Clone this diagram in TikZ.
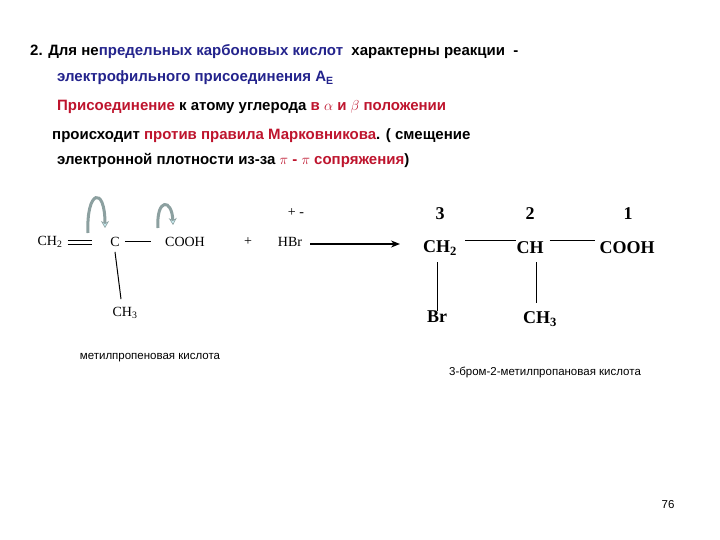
\documentclass[tikz,border=0pt]{standalone}
\usepackage{fontspec}
\setmainfont{Liberation Sans}
\newfontfamily\chem{Liberation Serif}
\usetikzlibrary{arrows.meta,calc}
\definecolor{tblue}{RGB}{35,35,140}
\definecolor{tred}{RGB}{190,20,45}
\definecolor{agray}{RGB}{140,160,160}
\definecolor{acyan}{RGB}{200,235,240}
\tikzset{
 tl/.style={anchor=base west,inner sep=0pt,font=\fontsize{15}{17}\selectfont\bfseries},
 rc/.style={inner sep=0pt,font=\chem\fontsize{14}{16}\selectfont},
 pc/.style={inner sep=0pt,font=\chem\fontsize{18}{20}\selectfont\bfseries},
 bond/.style={line width=1pt},
 curv/.style={line width=3pt,draw=agray,-{Stealth[length=7pt,width=8pt,fill=acyan,color=agray,line width=0.6pt]}},
 lab/.style={inner sep=0pt,font=\fontsize{11.5}{13}\selectfont}
}
\begin{document}
\begin{tikzpicture}[x=1pt,y=-1pt]
\useasboundingbox (0,0) rectangle (720,540);
\node[tl] (l1) at (30,56) {2. Для не\textcolor{tblue}{предельных карбоновых кислот}\ \ характерны реакции \ -};
\node[tl,text=tblue] (l2) at (57,82) {электрофильного присоединения A\textsubscript{E}};
\node[tl] (l3) at (57,111) {\textcolor{tred}{Присоединение} к атому углерода \textcolor{tred}{в $\alpha$ и $\beta$ положении}};
\node[tl] (l4) at (52,140) {происходит \textcolor{tred}{против правила Марковникова}. ( смещение};
\node[tl] (l5) at (57,165) {электронной плотности из-за \textcolor{tred}{$\pi$ - $\pi$ сопряжения})};
% reactant
\node[rc] (a1) at (50,242) {CH\textsubscript{2}};
\node[rc] (a2) at (115,242) {C};
\node[rc] (a3) at (185,242) {COOH};
\node[rc] (a4) at (125,313) {CH\textsubscript{3}};
\node[rc] (plus) at (248,242) {+};
\node[rc] (hbr) at (290,242) {HBr};
\node[rc] (pm) at (296,213) {+ -};
\draw[bond] (a1.east)++(5,-2) coordinate (d1) -- ++(24,0);
\draw[bond] (a1.east)++(5,2) -- ++(24,0);
\draw[bond] (a2.east)++(5,-1) -- ++(26,0);
\draw[bond] (a2.south)++(0,5) -- ($(a4.north)+(-4,-8)$);
\draw[curv] (88,233) .. controls (86,190) and (105,185) .. (105,228);
\draw[curv] (158,228) .. controls (156,198) and (172,198) .. (173,225);
\coordinate (ar) at (400,244);
\draw[line width=1.8pt,-{Stealth[length=9pt,width=7pt]}] (hbr.east)++(8,2) -- (ar);
% product
\node[pc] (b1) at (440,248) {CH\textsubscript{2}};
\node[pc] (b2) at (530,248) {CH};
\node[pc] (b3) at (627,248) {COOH};
\node[pc] (n3) at (440,214) {3};
\node[pc] (n2) at (530,214) {2};
\node[pc] (n1) at (628,214) {1};
\node[pc] (br) at (437,317) {Br};
\node[pc] (b4) at (540,319) {CH\textsubscript{3}};
\draw[bond] (465,240) -- (b2.west|-0,240);
\draw[bond] (b2.east|-0,240) ++(6,0) -- (595,240);
\draw[bond] (437,262) -- (br.north);
\draw[bond] (536,262) -- (536,303);
\node[lab] (c1) at (150,358) {метилпропеновая кислота};
\node[lab] (c2) at (545,372) {3-бром-2-метилпропановая кислота};
\node[lab] (pg) at (668,505) {76};
\end{tikzpicture}
\end{document}
